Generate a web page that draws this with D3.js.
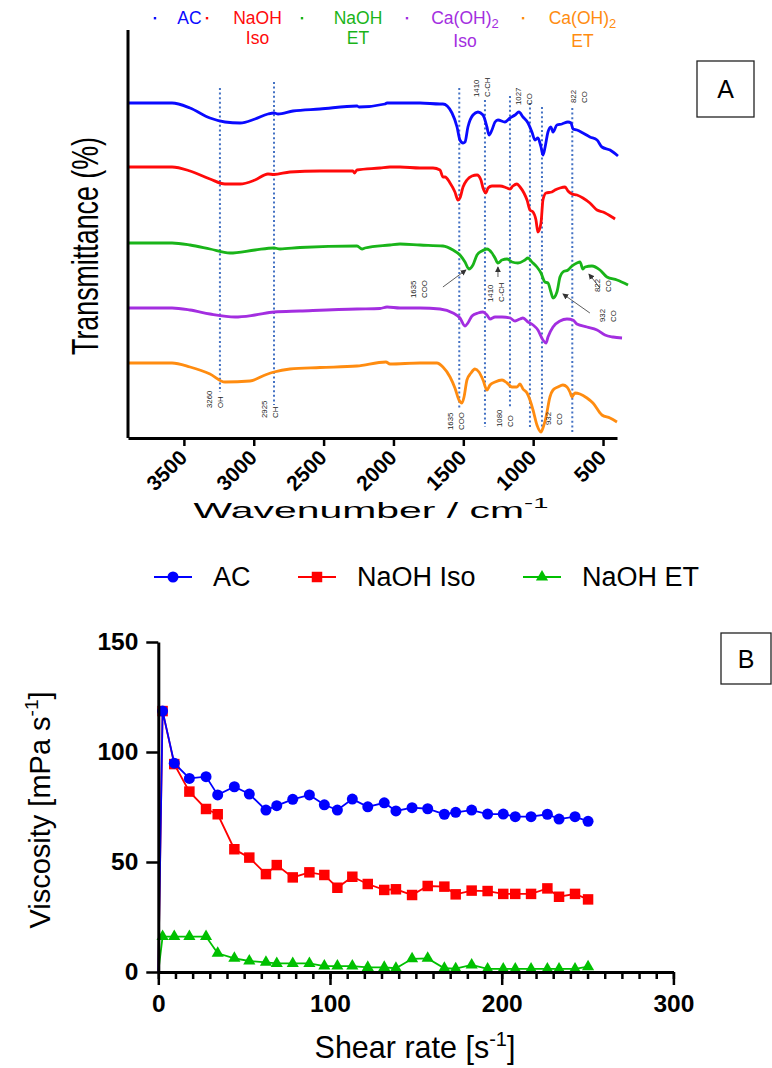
<!DOCTYPE html>
<html><head><meta charset="utf-8">
<script src="https://cdn.jsdelivr.net/npm/d3@7"></script>
<style>
body{margin:0;background:#fff}
svg{display:block}
text{font-family:"Liberation Sans",Arial,sans-serif}
</style>
</head><body>
<svg id="c" width="772" height="1068"></svg>
<script>
// ---------------- Panel A data (wavenumber, relative transmittance, offset per trace) ----------------
const wnTicks = [3500, 3000, 2500, 2000, 1500, 1000, 500];
const specNames = ["AC", "NaOH Iso", "NaOH ET", "Ca(OH)2 Iso", "Ca(OH)2 ET"];
const specLegendLines = [["AC"], ["NaOH", "Iso"], ["NaOH", "ET"], ["Ca(OH)2", "Iso"], ["Ca(OH)2", "ET"]];
const specColors = ["#0a0aff", "#ff0a0a", "#19b419", "#a32ee0", "#ff8c10"];

const acSpec = [[3900,335],[3585,335],[3456,330],[3313,320],[3206,316],[3098,315],[2991,319],[2898,324],[2855,325],[2826,324],[2719,327],[2526,329],[2261,332],[2247,331],[2061,334],[2046,335],[1932,335],[1810,335],[1667,334],[1646,334],[1581,325],[1545,311],[1524,298],[1502,295],[1488,296],[1467,311],[1431,323],[1395,326],[1359,323],[1331,311],[1316,303],[1295,308],[1273,316],[1252,318],[1202,316],[1166,320],[1130,323],[1102,326],[1073,321],[1037,315],[1009,306],[987,298],[966,300],[944,291],[930,283],[916,290],[894,306],[873,311],[858,306],[830,313],[794,314],[751,316],[729,315],[715,309],[687,308],[644,305],[594,301],[543,298],[508,291],[450,288],[393,282]];
const naohIsoSpec = [[3900,271],[3585,271],[3456,267],[3313,259],[3206,254],[3098,254],[2991,258],[2898,264],[2855,263.5],[2741,266],[2526,267],[2290,267],[2280,265],[2261,268],[2096,270],[2025,271],[1953,271],[1810,270],[1717,270],[1667,268],[1646,261],[1631,261],[1595,255],[1560,246],[1538,238],[1524,240],[1502,251],[1474,258],[1438,262],[1402,263],[1374,258],[1359,250],[1338,245],[1323,250],[1295,252],[1238,252],[1187,250],[1166,249],[1145,252],[1116,254],[1094,251],[1066,245],[1044,238],[1023,228],[1001,226],[980,218],[966,206],[944,215],[930,238],[908,245],[866,246],[844,248],[808,250],[772,251],[751,247],[722,244],[687,243],[644,240],[594,235],[543,228],[500,226],[436,221],[414,219]];
const naohEtSpec = [[3900,195],[3585,195],[3456,193],[3313,189],[3170,185],[2991,188],[2855,190],[2812,189],[2669,190.5],[2261,192],[2225,189],[2204,190],[2025,193],[1953,194],[1810,193],[1646,192],[1574,188],[1524,183],[1488,176],[1460,169],[1431,173],[1402,183],[1367,187],[1331,189],[1295,185],[1273,180],[1252,175],[1223,178],[1187,179],[1152,176],[1109,175],[1059,178],[1037,180],[1009,176],[973,171],[944,165],[916,156],[894,155],[873,146],[858,140],[830,146],[808,161],[787,166],[751,168],[722,172],[687,175],[665,176],[644,169],[629,171],[579,172],[522,168],[472,161],[400,158],[321,153]];
const caIsoSpec = [[3900,130],[3585,130],[3456,128],[3313,124],[3134,121],[2991,123],[2855,126],[2669,127],[2261,129],[2096,129.5],[2046,131],[1953,130],[1810,130],[1667,129],[1574,125],[1524,120],[1488,112],[1467,115],[1438,122],[1395,125],[1359,126],[1331,123],[1309,119],[1273,121],[1223,121],[1166,120],[1130,117],[1094,119],[1073,120],[1037,116],[1001,113],[966,108],[930,98],[908,95],[894,101],[858,111],[808,117],[758,119],[715,118],[687,114],[615,111],[543,108],[486,103],[429,101],[364,100]];
const caEtSpec = [[3900,75],[3585,75],[3456,71],[3313,64],[3206,56],[3027,57],[2919,63],[2855,66],[2741,69],[2526,70.5],[2261,72],[2054,76],[2025,74],[1810,75],[1689,75],[1646,71],[1595,61],[1560,50],[1531,38],[1510,35],[1495,41],[1474,58],[1445,65],[1417,69],[1388,66],[1359,58],[1331,48],[1309,53],[1273,56],[1223,58],[1187,55],[1152,51],[1116,51],[1094,54],[1073,49],[1044,45],[1023,38],[1001,28],[973,13],[944,6],[930,10],[908,21],[880,41],[858,48],[823,51],[787,53],[758,51],[737,46],[722,41],[701,45],[665,44],[615,40],[572,35],[508,23],[450,20],[400,16]];
const spectra = [acSpec, naohIsoSpec, naohEtSpec, caIsoSpec, caEtSpec];

// guide lines (wavenumber on the axis scale, top and bottom in trace units)
const guideWn = [3242, 2855, 1529, 1345, 1166, 1023, 937, 720];
const guideTop = [350, 356, 350, 338, 342, 335, 331, 330];
const guideBottom = [46, 33, 30, 11, 30, 11, 5, 5];

// peak labels
const peakLabelWn = [1388, 1087, 694, 1839, 1288, 522, 486, 3299, 2905, 1574, 1223, 873];
const peakLabelV = [341, 333, 335, 140, 136, 146, 116, 30, 20, 8, 11, 13];
const peakLabelNum = ["1410", "1027", "822", "1635", "1410", "822", "932", "3260", "2925", "1635", "1080", "932"];
const peakLabelGroup = ["C-CH", "CO", "CO", "COO", "C-CH", "CO", "CO", "OH", "CH", "COO", "CO", "CO"];

// arrows
const arrowFrom = [[1646,151],[1252,161],[594,125],[522,150]];
const arrowTo = [[1481,168],[1252,171],[787,144],[601,164]];

// ---------------- Panel B data ----------------
const shearRate = [0, 2.5, 9.3, 18.1, 27.8, 34.6, 44.3, 53.0, 62.7, 69.0, 78.3, 88.0, 96.7, 104.3, 113.0, 122.0, 131.6, 138.4, 147.8, 156.9, 166.6, 173.2, 182.5, 191.8, 200.9, 207.9, 217.1, 226.6, 233.4, 242.7, 250.3];
const viscAC = [0, 118.6, 94.9, 88.0, 88.8, 80.5, 84.2, 80.9, 73.6, 75.6, 78.5, 80.5, 76.0, 73.6, 78.6, 75.1, 76.9, 73.2, 74.7, 74.2, 71.7, 72.6, 73.6, 71.8, 71.8, 70.6, 70.6, 71.7, 69.5, 70.6, 68.5];
const viscNaOHIso = [0, 118.6, 94.5, 82.0, 74.1, 71.7, 55.8, 52.0, 44.5, 48.6, 43.0, 45.3, 44.1, 38.3, 43.3, 40.0, 37.3, 37.6, 35.0, 39.1, 38.8, 35.3, 37.0, 36.8, 35.5, 35.5, 35.5, 38.0, 34.2, 35.5, 33.0];
const viscNaOHET = [0, 16.1, 16.1, 16.1, 16.1, 8.5, 6.2, 5.0, 4.4, 3.9, 3.9, 3.9, 2.7, 2.7, 2.7, 2.1, 2.1, 1.7, 6.0, 6.2, 1.7, 1.5, 3.2, 1.4, 1.4, 1.4, 1.4, 1.4, 1.4, 1.4, 2.4];
const seriesBNames = ["AC", "NaOH Iso", "NaOH ET"];
const seriesBColors = ["#0000ff", "#ff0000", "#00c000"];
const seriesBSymbols = [d3.symbolCircle, d3.symbolSquare, d3.symbolTriangle];
const yTicksB = [0, 50, 100, 150];
const xTicksB = [0, 100, 200, 300];

// ---------------- Drawing ----------------
const svg = d3.select("#c");
svg.append("defs").append("marker")
  .attr("id", "arr").attr("viewBox", "0 0 8 8").attr("refX", 7).attr("refY", 4)
  .attr("markerWidth", 6).attr("markerHeight", 6).attr("markerUnits", "userSpaceOnUse")
  .attr("orient", "auto")
  .append("path").attr("d", "M0,0 L8,4 L0,8 z").attr("fill", "#333");

// ===== Panel A =====
const xA = d3.scaleLinear().domain([3900, 400]).range([128, 617]);
const yA = d3.scaleLinear().domain([0, 410]).range([438, 28]);
const gA = svg.append("g");

gA.selectAll("line.guide").data(guideWn).join("line")
  .attr("x1", d => xA(d)).attr("x2", d => xA(d))
  .attr("y1", (d, i) => yA(guideTop[i])).attr("y2", (d, i) => yA(guideBottom[i]))
  .attr("stroke", "#4472c4").attr("stroke-width", 2).attr("stroke-dasharray", "2,2.6");

const lineA = d3.line().x(d => xA(d[0])).y(d => yA(d[1])).curve(d3.curveMonotoneX);
gA.selectAll("path.spec").data(spectra).join("path")
  .attr("d", lineA).attr("fill", "none")
  .attr("stroke", (d, i) => specColors[i]).attr("stroke-width", 2.8)
  .attr("stroke-linejoin", "round");

peakLabelWn.forEach((wn, i) => {
  const g = gA.append("g").attr("transform", `translate(${xA(wn)},${yA(peakLabelV[i])}) rotate(-90)`);
  g.append("text").attr("x", 0).attr("y", 0).attr("font-size", 7.8).attr("fill", "#222").text(peakLabelNum[i]);
  g.append("text").attr("x", 0).attr("y", 11).attr("font-size", 7.8).attr("fill", "#222").text(peakLabelGroup[i]);
});

gA.selectAll("line.arrow").data(arrowFrom).join("line")
  .attr("x1", d => xA(d[0])).attr("y1", d => yA(d[1]))
  .attr("x2", (d, i) => xA(arrowTo[i][0])).attr("y2", (d, i) => yA(arrowTo[i][1]))
  .attr("stroke", "#333").attr("stroke-width", 0.8).attr("marker-end", "url(#arr)");

gA.append("line").attr("x1", 128).attr("x2", 128).attr("y1", 30).attr("y2", 438)
  .attr("stroke", "#000").attr("stroke-width", 3);
const axA = gA.append("g").attr("transform", "translate(0,438)")
  .call(d3.axisBottom(xA).tickValues(wnTicks).tickSize(8).tickSizeOuter(0).tickFormat(d3.format("d")));
axA.select(".domain").attr("stroke", "#000").attr("stroke-width", 3);
axA.selectAll(".tick line").attr("stroke", "#000").attr("stroke-width", 2.5);
axA.selectAll(".tick text").attr("x", 0).attr("y", 0).attr("dy", 0)
  .attr("transform", "translate(4,21) rotate(-45)")
  .style("text-anchor", "end").attr("font-size", 21).attr("font-weight", "bold")
  .attr("fill", "#000").attr("font-family", '"Liberation Sans",Arial,sans-serif');

const xtA = gA.append("text").attr("transform", "translate(371,518) scale(1.82,1)")
  .attr("text-anchor", "middle").attr("font-size", 22.5).attr("fill", "#000");
xtA.append("tspan").text("Wavenumber / cm");
xtA.append("tspan").attr("dy", -10).attr("font-size", 15).text("-1");

gA.append("text").attr("transform", "translate(98,246) rotate(-90)")
  .attr("text-anchor", "middle").attr("font-size", 37).attr("textLength", 218)
  .attr("lengthAdjust", "spacingAndGlyphs").attr("fill", "#000").text("Transmittance (%)");

const legDotX = [155, 207, 302, 407, 523];
const legTextX = [189.5, 257.5, 358, 465, 582.5];
function writeChem(sel, str) {
  if (str.endsWith(")2")) {
    sel.append("tspan").text(str.slice(0, -1));
    sel.append("tspan").attr("dy", 4).attr("font-size", 13).text("2");
  } else sel.text(str);
}
specNames.forEach((n, i) => {
  gA.append("rect").attr("x", legDotX[i] - 1.2).attr("y", 17).attr("width", 2.4).attr("height", 2.4)
    .attr("fill", specColors[i]);
  specLegendLines[i].forEach((ln, j) => {
    const t = gA.append("text").attr("x", legTextX[i])
      .attr("y", j === 0 ? 24 : (specLegendLines[i][0].endsWith(")2") ? 47 : 44))
      .attr("text-anchor", "middle").attr("font-size", 17.5).attr("fill", specColors[i]);
    writeChem(t, ln);
  });
});

gA.append("rect").attr("x", 697).attr("y", 61).attr("width", 57).attr("height", 56)
  .attr("fill", "none").attr("stroke", "#222").attr("stroke-width", 1.3);
gA.append("text").attr("x", 725.5).attr("y", 98).attr("text-anchor", "middle")
  .attr("font-size", 25).attr("fill", "#000").text("A");

// ===== Panel B =====
const xB = d3.scaleLinear().domain([0, 300]).range([158.3, 673.4]);
const yB = d3.scaleLinear().domain([0, 150]).range([972, 642]);
const gB = svg.append("g");
const seriesB = [viscAC, viscNaOHIso, viscNaOHET];
const lineB = d3.line().x((d, i) => xB(shearRate[i])).y(d => yB(d));
[2, 1, 0].forEach(k => {
  gB.append("path").datum(seriesB[k]).attr("d", lineB).attr("fill", "none")
    .attr("stroke", seriesBColors[k]).attr("stroke-width", 1.8);
  const sym = d3.symbol().type(seriesBSymbols[k]).size(k === 0 ? 95 : (k === 1 ? 110 : 64));
  gB.selectAll(null).data(seriesB[k].map((v, i) => [shearRate[i], v]).filter(d => d[0] > 0)).join("path")
    .attr("d", sym).attr("transform", d => `translate(${xB(d[0])},${yB(d[1])})`)
    .attr("fill", seriesBColors[k]);
});

const axYB = gB.append("g").attr("transform", "translate(158.3,0)")
  .call(d3.axisLeft(yB).tickValues(yTicksB).tickSize(12).tickSizeOuter(0).tickPadding(8));
const axXminor = gB.append("g").attr("transform", "translate(0,972)")
  .call(d3.axisBottom(xB).tickValues(d3.range(0, 301, 10)).tickSize(7).tickSizeOuter(0).tickFormat(""));
const axXB = gB.append("g").attr("transform", "translate(0,972)")
  .call(d3.axisBottom(xB).tickValues(xTicksB).tickSize(13).tickSizeOuter(0).tickPadding(10));
[axYB, axXminor, axXB].forEach(a => {
  a.select(".domain").attr("stroke", "#000").attr("stroke-width", 3);
  a.selectAll(".tick line").attr("stroke", "#000").attr("stroke-width", 2.5);
  a.selectAll(".tick text").attr("font-size", 24.5).attr("font-weight", "bold").attr("fill", "#000")
    .attr("font-family", '"Liberation Sans",Arial,sans-serif');
});

const ytB = gB.append("text").attr("transform", "translate(50,810) rotate(-90)")
  .attr("text-anchor", "middle").attr("font-size", 29).attr("fill", "#000");
ytB.append("tspan").text("Viscosity [mPa s");
ytB.append("tspan").attr("dy", -12).attr("font-size", 19).text("-1");
ytB.append("tspan").attr("dy", 12).text("]");

const xtB = gB.append("text").attr("transform", "translate(415,1058)")
  .attr("text-anchor", "middle").attr("font-size", 30.5).attr("fill", "#000");
xtB.append("tspan").text("Shear rate [s");
xtB.append("tspan").attr("dy", -12).attr("font-size", 20).text("-1");
xtB.append("tspan").attr("dy", 12).text("]");

const legBLineX = [154, 298, 523];
seriesBNames.forEach((n, k) => {
  const x0 = legBLineX[k];
  gB.append("line").attr("x1", x0).attr("x2", x0 + 38).attr("y1", 577).attr("y2", 577)
    .attr("stroke", seriesBColors[k]).attr("stroke-width", 1.8);
  gB.append("path").attr("d", d3.symbol().type(seriesBSymbols[k]).size(k === 0 ? 95 : (k === 1 ? 110 : 64)))
    .attr("transform", `translate(${x0 + 19},577)`).attr("fill", seriesBColors[k]);
  gB.append("text").attr("x", x0 + 59).attr("y", 586).attr("font-size", 27).attr("fill", "#000").text(n);
});

gB.append("rect").attr("x", 721).attr("y", 633).attr("width", 50).attr("height", 51)
  .attr("fill", "none").attr("stroke", "#222").attr("stroke-width", 1.3);
gB.append("text").attr("x", 746).attr("y", 668).attr("text-anchor", "middle")
  .attr("font-size", 25).attr("fill", "#000").text("B");
</script>
</body></html>
